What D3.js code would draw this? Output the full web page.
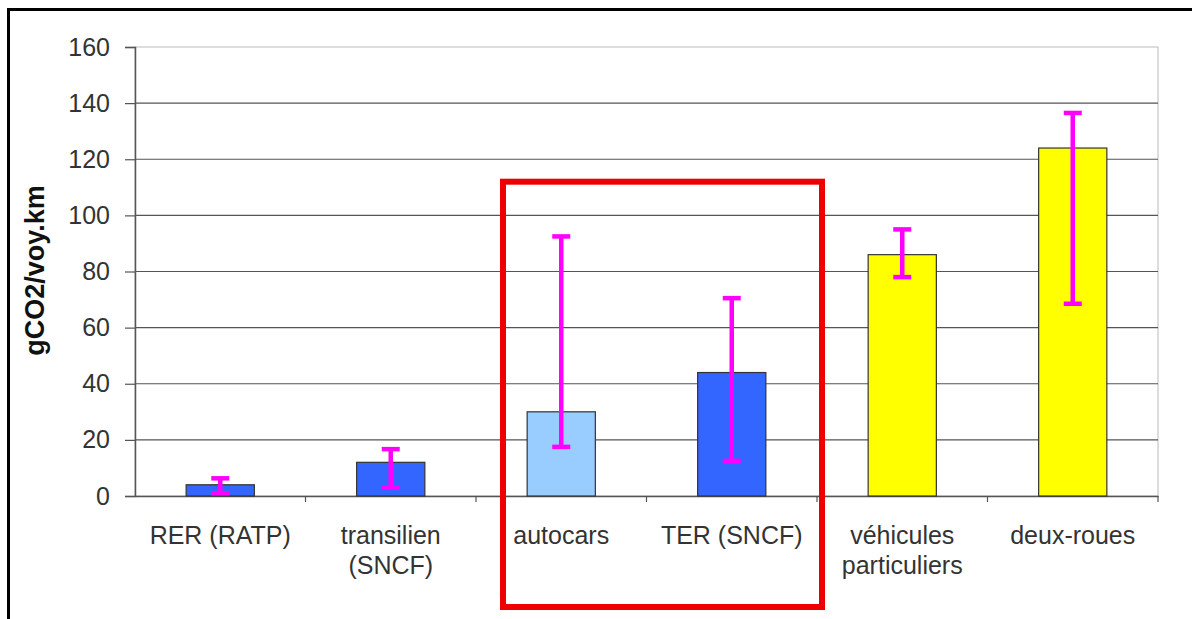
<!DOCTYPE html>
<html>
<head>
<meta charset="utf-8">
<script src="https://cdn.jsdelivr.net/npm/d3@7"></script>
<style>
  body { margin: 0; background: #fff; }
  svg { display: block; font-family: "Liberation Sans", Arial, sans-serif; }
</style>
</head>
<body>
<svg id="chart" width="1192" height="619"></svg>
<script>
const categories = ["RER (RATP)", "transilien (SNCF)", "autocars", "TER (SNCF)", "véhicules particuliers", "deux-roues"];
const categoryLines = [["RER (RATP)"], ["transilien", "(SNCF)"], ["autocars"], ["TER (SNCF)"], ["véhicules", "particuliers"], ["deux-roues"]];
const values = [4, 12, 30, 44, 86, 124];
const errLow = [1, 3, 17.5, 12.5, 78, 68.5];
const errHigh = [6.3, 16.7, 92.5, 70.5, 95, 136.5];
const barColors = ["#3366ff", "#3366ff", "#99ccff", "#3366ff", "#ffff00", "#ffff00"];
const yTicks = [0, 20, 40, 60, 80, 100, 120, 140, 160];
const yLabel = "gCO2/voy.km";
const highlighted = ["autocars", "TER (SNCF)"];

const svg = d3.select("#chart");
const pLeft = 135, pRight = 1158, pTop = 47, pBottom = 496;

const x = d3.scaleBand().domain(categories).range([pLeft, pRight]).paddingInner(0.6).paddingOuter(0.3);
const xb = d3.scaleBand().domain(categories).range([pLeft, pRight]);
const y = d3.scaleLinear().domain([0, 160]).range([pBottom, pTop]);

// outer frame (cut off on right and bottom)
svg.append("rect").attr("x", 8.5).attr("y", 9.5).attr("width", 1300).attr("height", 800)
  .attr("fill", "none").attr("stroke", "#000").attr("stroke-width", 3);

// plot border (light)
svg.append("rect").attr("x", pLeft).attr("y", pTop).attr("width", pRight - pLeft).attr("height", pBottom - pTop)
  .attr("fill", "none").attr("stroke", "#bbb").attr("stroke-width", 1);

// gridlines
svg.append("g").selectAll("line").data(yTicks.filter(d => d > 0 && d < 160)).join("line")
  .attr("x1", pLeft).attr("x2", pRight).attr("y1", d => y(d)).attr("y2", d => y(d))
  .attr("stroke", "#555").attr("stroke-width", 1.2);

// y axis
const yAxis = svg.append("g").attr("transform", `translate(${pLeft},0)`)
  .call(d3.axisLeft(y).tickValues(yTicks).tickSize(10).tickPadding(15).tickFormat(d3.format("d")));
yAxis.select(".domain").attr("stroke", "#555").attr("stroke-width", 1.5);
yAxis.selectAll(".tick line").attr("stroke", "#555").attr("stroke-width", 1.2);
yAxis.selectAll("text").attr("font-size", 25).attr("fill", "#333").attr("font-family", "Liberation Sans, Arial, sans-serif");

// x axis
const xAxis = svg.append("g").attr("transform", `translate(0,${pBottom})`)
  .call(d3.axisBottom(xb).tickSize(0).tickFormat(""));
xAxis.select(".domain").attr("stroke", "#555").attr("stroke-width", 1.5);
// category separators
svg.append("g").selectAll("line").data(categories).join("line")
  .attr("x1", d => xb(d) + xb.bandwidth()).attr("x2", d => xb(d) + xb.bandwidth())
  .attr("y1", pBottom).attr("y2", pBottom + 6).attr("stroke", "#555").attr("stroke-width", 1.2);

// bars
svg.append("g").selectAll("rect").data(categories).join("rect")
  .attr("x", d => x(d)).attr("width", x.bandwidth())
  .attr("y", (d, i) => y(values[i])).attr("height", (d, i) => y(0) - y(values[i]))
  .attr("fill", (d, i) => barColors[i]).attr("stroke", "#333").attr("stroke-width", 1.2);

// error bars
const eg = svg.append("g").attr("stroke", "#ff00ff").attr("stroke-width", 4.5);
categories.forEach((c, i) => {
  const cx = x(c) + x.bandwidth() / 2;
  eg.append("line").attr("x1", cx).attr("x2", cx).attr("y1", y(errLow[i])).attr("y2", y(errHigh[i]));
  eg.append("line").attr("x1", cx - 9).attr("x2", cx + 9).attr("y1", y(errLow[i])).attr("y2", y(errLow[i]));
  eg.append("line").attr("x1", cx - 9).attr("x2", cx + 9).attr("y1", y(errHigh[i])).attr("y2", y(errHigh[i]));
});

// category labels
const lg = svg.append("g").attr("font-size", 25).attr("fill", "#333").attr("text-anchor", "middle");
categories.forEach((c, i) => {
  const t = lg.append("text").attr("x", x(c) + x.bandwidth() / 2).attr("y", pBottom + 48);
  categoryLines[i].forEach((ln, j) => {
    t.append("tspan").attr("x", x(c) + x.bandwidth() / 2).attr("dy", j === 0 ? 0 : 30).text(ln);
  });
});

// y label
svg.append("text").attr("transform", `translate(44,${(pTop + pBottom) / 2 - 1}) rotate(-90)`)
  .attr("text-anchor", "middle").attr("font-size", 27).attr("font-weight", "bold").attr("fill", "#111")
  .text(yLabel);

// highlight box around autocars and TER
const hx0 = xb(highlighted[0]) + 27;
const hx1 = xb(highlighted[1]) + xb.bandwidth() + 5;
svg.append("rect").attr("x", hx0).attr("y", y(112)).attr("width", hx1 - hx0).attr("height", 607 - y(112))
  .attr("fill", "none").attr("stroke", "#ee0000").attr("stroke-width", 6);
</script>
</body>
</html>
